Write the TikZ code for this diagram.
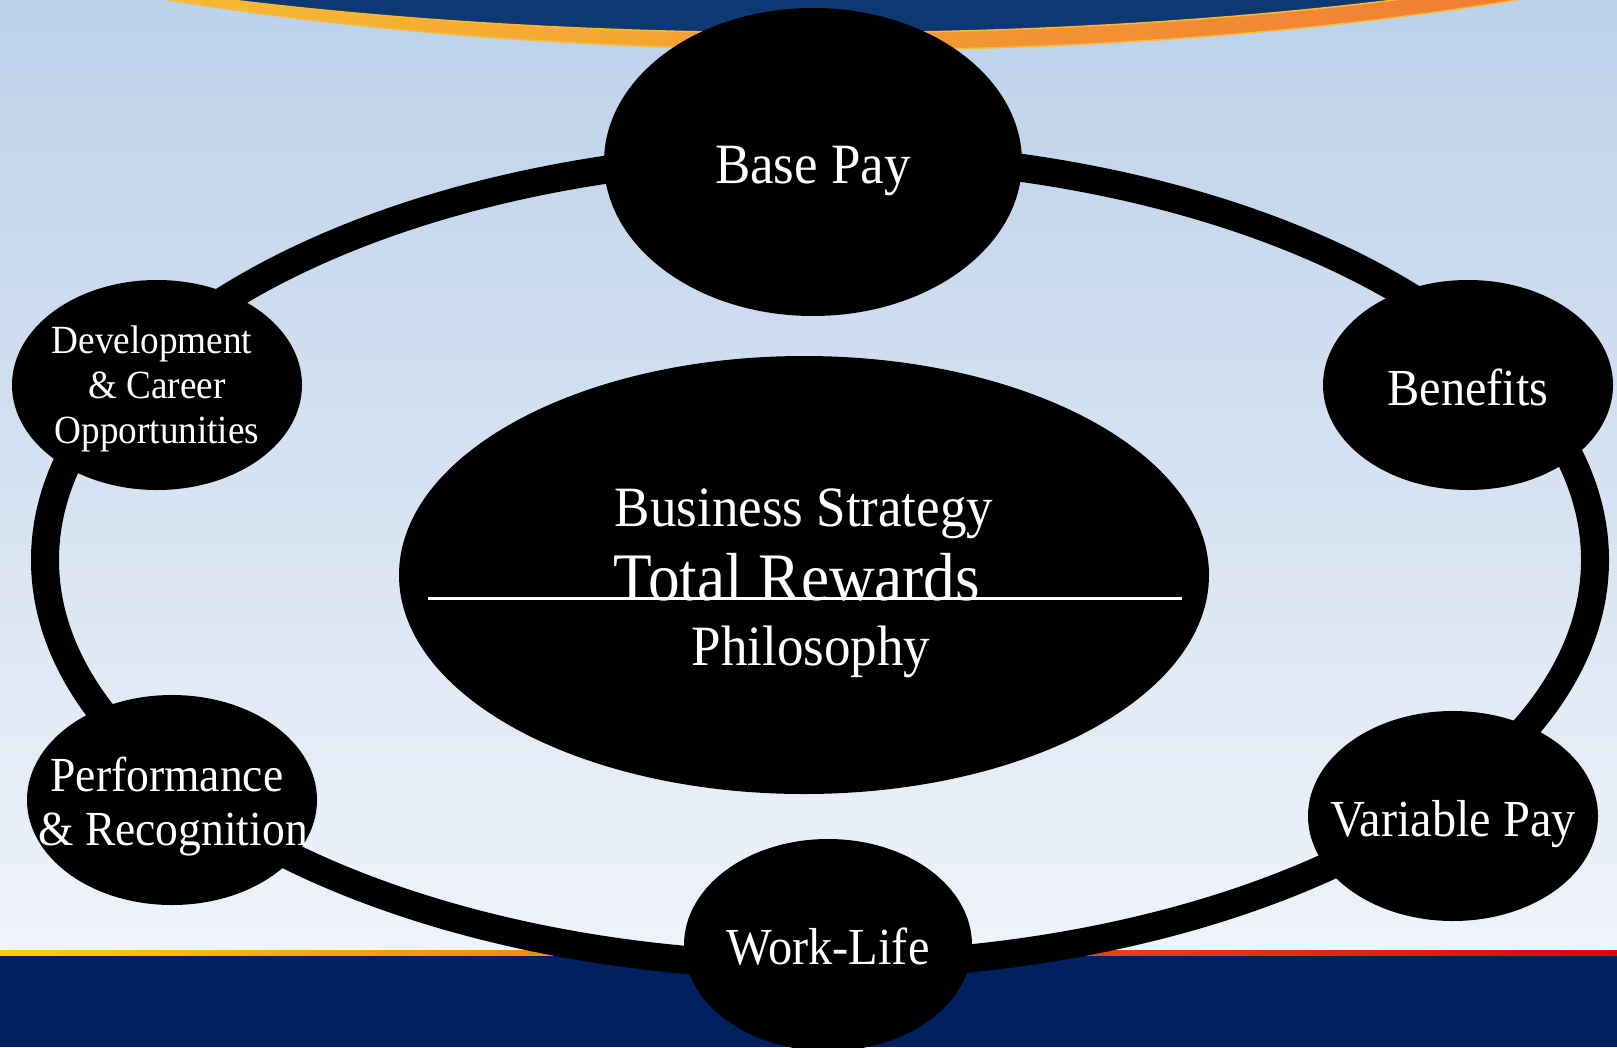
\documentclass[tikz,border=0pt]{standalone}
\usepackage{fontspec}
\setmainfont[FakeStretch=0.93]{Liberation Serif}
\usetikzlibrary{shapes.geometric}
\definecolor{skytop}{HTML}{BCD1E9}
\definecolor{skybot}{HTML}{EFF3FA}
\definecolor{navytop}{HTML}{0E3872}
\definecolor{navybot}{HTML}{00205F}
\definecolor{bandyel}{HTML}{F6BA33}
\definecolor{bandorg}{HTML}{F07D33}
\definecolor{stripeyel}{HTML}{FFD000}
\definecolor{stripeorg}{HTML}{F58220}
\definecolor{stripered}{HTML}{E00010}
\newcommand{\fs}[1]{\fontsize{#1}{#1}\selectfont}
\begin{document}
\begin{tikzpicture}[x=1pt,y=-1pt,
  blob/.style={ellipse, fill=black, inner sep=0pt},
  lbl/.style={text=white, inner sep=0pt, align=center},
]
\useasboundingbox (0,0) rectangle (1617,1047);
% page background
\shade[top color=skytop, bottom color=skybot] (0,0) rectangle (1617,950);
\shade[left color=stripeyel, middle color=stripeorg, right color=stripered] (0,950) rectangle (1617,956);
\fill[navybot] (0,956) rectangle (1617,1047);
% top swoosh
\begin{scope}
  \clip (0,0) rectangle (1617,1047);
  \begin{scope}
    \clip (843,-250) ellipse [x radius=1217, y radius=300];
    \shade[left color=bandyel, right color=bandorg] (170,0) rectangle (1516,60);
  \end{scope}
  \draw[bandyel, line width=1.5] (843,-250) ellipse [x radius=1217, y radius=300];
  \fill[navytop, draw=bandyel, line width=1.5] (813,-267) ellipse [x radius=1274, y radius=300];
\end{scope}
% ring joining the six areas
\node[ellipse, draw=black, line width=28, minimum width=1550, minimum height=812, inner sep=0pt] (ring) at (820,560) {};
% reward areas
\node[blob, minimum width=418, minimum height=308] (base) at (813,162) {};
\node[blob, minimum width=290, minimum height=210] (dev) at (157,385) {};
\node[blob, minimum width=290, minimum height=210] (ben) at (1468,385) {};
\node[blob, minimum width=290, minimum height=210] (perf) at (172,800) {};
\node[blob, minimum width=290, minimum height=210] (var) at (1453,816) {};
\node[blob, minimum width=288, minimum height=212] (work) at (828,945) {};
\node[blob, minimum width=810, minimum height=438] (core) at (804,575) {};
% labels
\node[lbl, font=\fs{57}, anchor=base] (tbase) at (813,183) {Base Pay};
\node[lbl, font=\fs{52}, anchor=base] (tben) at (1468,405) {Benefits};
\node[lbl, font=\fs{52}, anchor=base] (tvar) at (1453,836) {Variable Pay};
\node[lbl, font=\fs{52}, anchor=base] (twork) at (828,964) {Work-Life};
\node[lbl, font=\fs{49}, anchor=base] (tperf1) at (167,791) {Performance};
\node[lbl, font=\fs{49}, anchor=base] (tperf2) at (173,845) {\& Recognition};
\node[lbl, font=\fs{40}, anchor=base] (tdev1) at (152,353) {Development};
\node[lbl, font=\fs{40}, anchor=base] (tdev2) at (157,398) {\& Career};
\node[lbl, font=\fs{40}, anchor=base] (tdev3) at (157,443) {Opportunities};
\node[lbl, font=\fs{57}, anchor=base] (tbiz) at (804,526) {Business Strategy};
\node[lbl, font=\fs{68}, anchor=base] (ttotal) at (797,600) {Total Rewards};
\node[lbl, font=\fs{57}, anchor=base] (tphil) at (811,665) {Philosophy};
\coordinate (ruleL) at (428,598);
\coordinate (ruleR) at (1182,598);
\draw[white, line width=3] (ruleL) -- (ruleR);
\end{tikzpicture}
\end{document}
